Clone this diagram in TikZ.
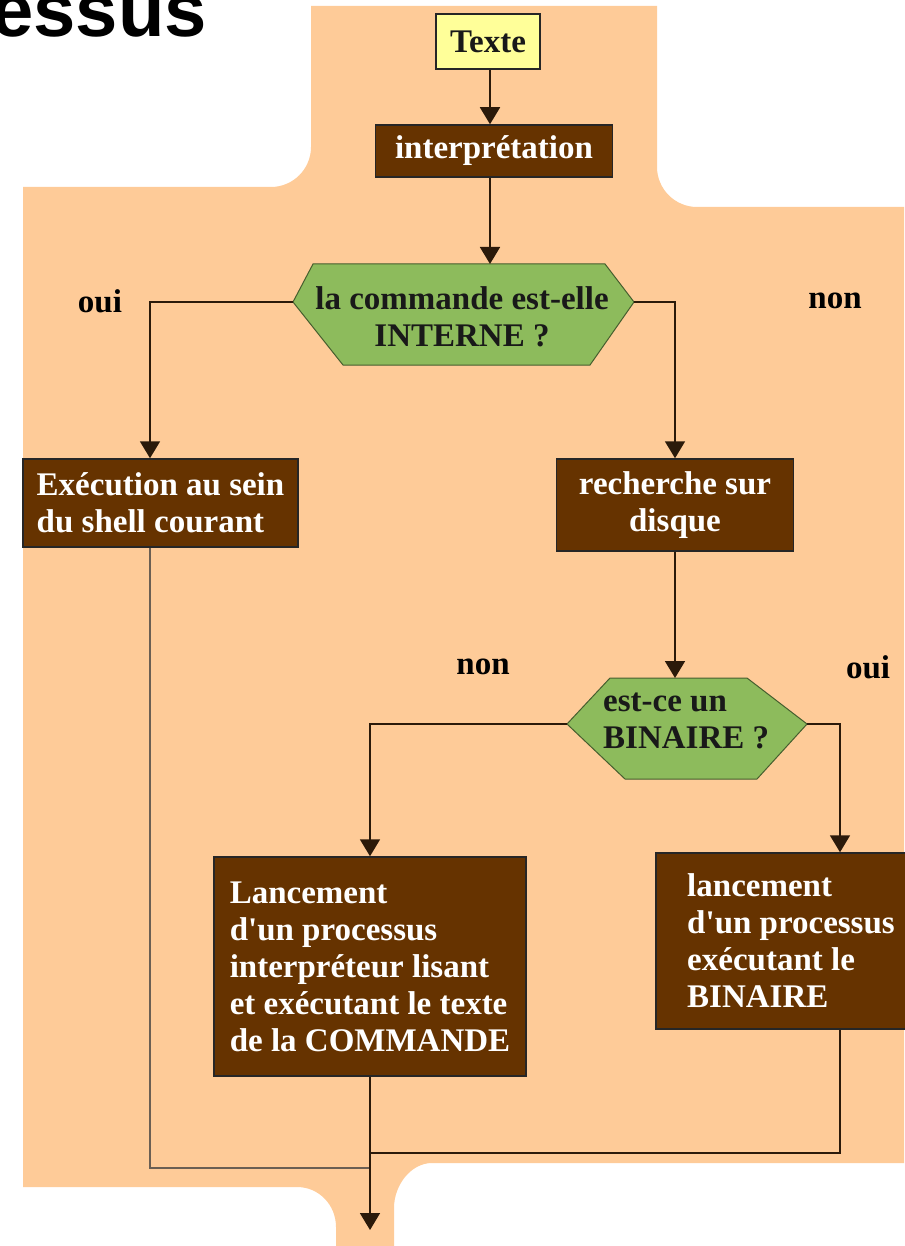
\documentclass[tikz,border=0pt]{standalone}
\usepackage{fontspec}
\setmainfont{Liberation Serif}[Ligatures=TeXOff]
\newfontfamily\titrefont{Liberation Sans}
\usetikzlibrary{arrows.meta}
\definecolor{peche}{HTML}{FECB98}
\definecolor{brun}{HTML}{663300}
\definecolor{vert}{HTML}{8DBB5C}
\definecolor{jaune}{HTML}{FFFF99}
\definecolor{trait}{HTML}{2B1A0A}
\tikzstyle{every node}=[font=\fontsize{33}{37}\selectfont\bfseries]
\tikzstyle{boite}=[draw=black!85,line width=1.5pt,fill=brun,text=white,inner sep=0pt]
\tikzstyle{fleche}=[draw=trait,line width=1.8pt,-{Triangle[width=20pt,length=17pt]}]
\tikzstyle{ligne}=[draw=trait,line width=1.8pt]
\tikzstyle{hexa}=[fill=vert,draw=vert!50!black,line width=1pt]
\begin{document}
\begin{tikzpicture}[x=1pt,y=-1pt]
\useasboundingbox (0,0) rectangle (904,1246);
% fond
\fill[peche] (311,6) -- (657,6) -- (657,167) .. controls (657,189) and (675,207) .. (697,207) -- (904,207) -- (904,1163) -- (432,1163) .. controls (411,1163) and (394,1185) .. (394,1208) -- (394,1246) -- (336,1246) -- (336,1227) .. controls (336,1205) and (319,1187) .. (297,1187) -- (23,1187) -- (23,187) -- (271,187) .. controls (293,187) and (311,169) .. (311,147) -- cycle;
\node[font=\titrefont\fontsize{76}{80}\selectfont\bfseries,anchor=base east,inner sep=0pt] (titre) at (207,37) {essus};
\node[draw=black!85,line width=1.5pt,fill=jaune,minimum width=104pt,minimum height=55pt,inner sep=0pt,text=black!90] (texte) at (488,41.5) {Texte};
\node[boite,minimum width=237pt,minimum height=52pt] (interp) at (494,151) {interprétation};
% premier test
\coordinate (interne-n) at (490,264);
\coordinate (interne-w) at (293,302);
\coordinate (interne-e) at (634,302);
\filldraw[hexa] (313,264) -- (605,264) -- (interne-e) -- (590,365) -- (343,365) -- (interne-w) -- cycle;
\node[align=center,text=black!90] (interne) at (462,317) {la commande est-elle\\INTERNE ?};
\node (oui1) at (100,301) {oui};
\node (non1) at (835,301) {non};
\node[boite,minimum width=275pt,minimum height=88pt,align=left] (execution) at (160.5,503) {Exécution au sein\\du shell courant};
\node[boite,minimum width=237pt,minimum height=92pt,align=center] (recherche) at (675,505) {recherche sur\\disque};
% second test
\coordinate (binaire-n) at (675,678);
\coordinate (binaire-w) at (567,724);
\coordinate (binaire-e) at (807,724);
\filldraw[hexa] (610,678) -- (747,678) -- (binaire-e) -- (757,779) -- (625,779) -- (binaire-w) -- cycle;
\node[align=left,anchor=west,inner sep=0pt,text=black!90] (binaire) at (603,721) {est-ce un\\BINAIRE ?};
\node (non2) at (483,667) {non};
\node (oui2) at (868,667) {oui};
\node[boite,minimum width=312pt,minimum height=219pt,align=left] (lancecmd) at (370,966.5) {Lancement\\d'un processus\\interpréteur lisant\\et exécutant le texte\\de la COMMANDE};
\node[boite,minimum width=270pt,minimum height=176pt,align=left] (lancebin) at (791,941) {lancement\\d'un processus\\exécutant le\\BINAIRE};
% connexions
\coordinate (jonction-g) at (370,1168);
\coordinate (jonction-d) at (370,1153);
\coordinate (sortie) at (370,1230);
\draw[fleche] ([xshift=2pt]texte.south) -- ([xshift=2pt]texte.south |- interp.north);
\draw[fleche] (interp.south -| interne-n) -- (interne-n);
\draw[fleche] (interne-w) -| ([xshift=-10.5pt]execution.north);
\draw[fleche] (interne-e) -| (recherche.north);
\draw[fleche] (recherche.south) -- (binaire-n);
\draw[fleche] (binaire-w) -| (lancecmd.north);
\draw[fleche] (binaire-e) -| ([xshift=49pt]lancebin.north);
\draw[ligne,draw=trait!70,line width=1.3pt] ([xshift=-10.5pt]execution.south) |- (jonction-g);
\draw[ligne] ([xshift=49pt]lancebin.south) |- (jonction-d);
\draw[fleche] (lancecmd.south) -- (sortie);
\end{tikzpicture}
\end{document}
